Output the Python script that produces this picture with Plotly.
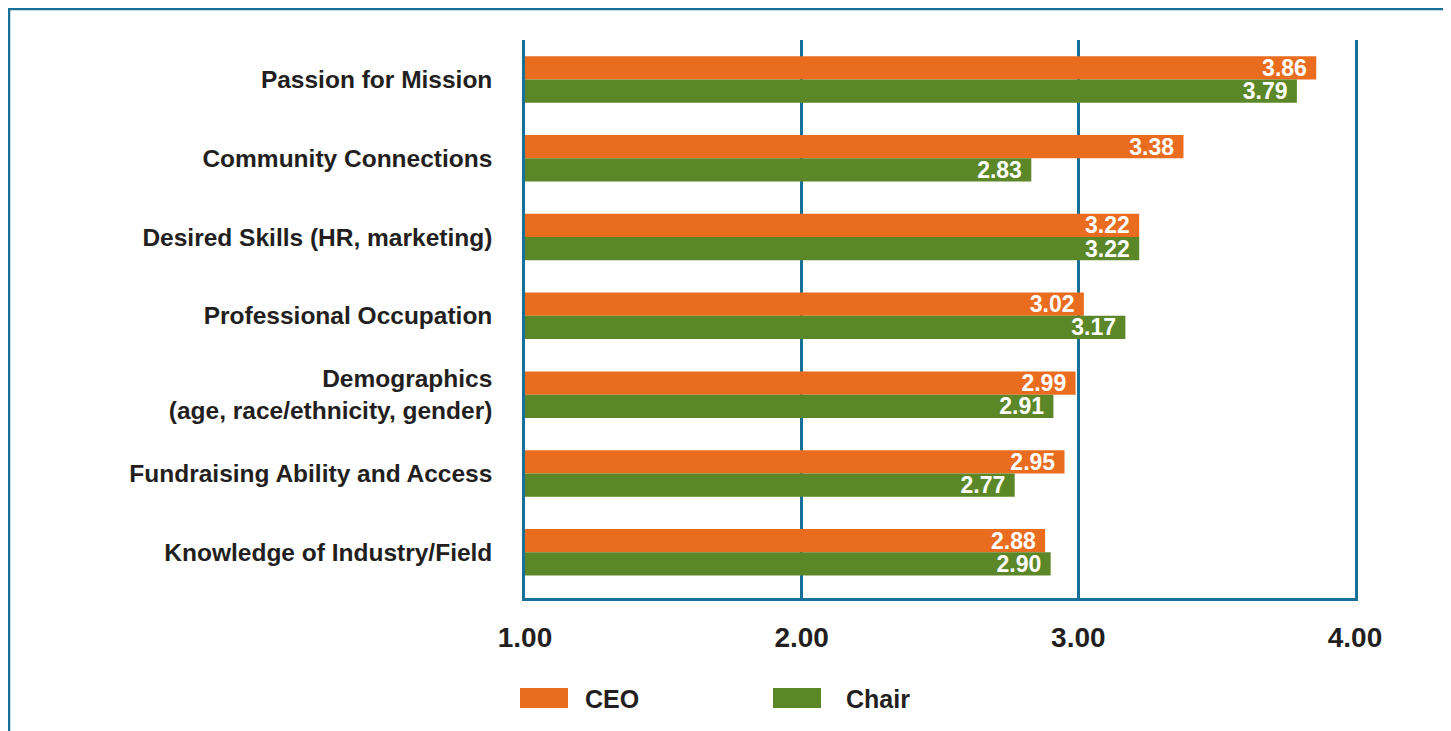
import plotly.graph_objects as go

# data (top to bottom)
categories = [
    "Passion for Mission",
    "Community Connections",
    "Desired Skills (HR, marketing)",
    "Professional Occupation",
    "Demographics<br>(age, race/ethnicity, gender)",
    "Fundraising Ability and Access",
    "Knowledge of Industry/Field",
]
ceo = [3.86, 3.38, 3.22, 3.02, 2.99, 2.95, 2.88]
chair = [3.79, 2.83, 3.22, 3.17, 2.91, 2.77, 2.90]
tick_vals = [1, 2, 3, 4]
tick_text = ["1.00", "2.00", "3.00", "4.00"]

ORANGE = "#E96C1F"
GREEN = "#5C8729"
TEAL = "#17709A"
INK = "#231F20"
FONT = "Liberation Sans"

# the page puts the figure 8px in from the corner, so work in shifted pixels
OFF = 8
W, H = 1451 - OFF, 731 - OFF
L, R, T, B = 525 - OFF, 1355 - OFF, 40 - OFF, 598 - OFF  # plot area


def px(x):
    return (x - OFF - L) / (R - L)


def py(y):
    return (B - (y - OFF)) / (B - T)


fig = go.Figure()
fig.add_trace(go.Bar(
    name="CEO", y=categories, x=ceo, orientation="h",
    marker=dict(color=ORANGE, line=dict(width=0)),
    text=[f"{v:.2f}\u00a0" for v in ceo],
    textposition="inside", insidetextanchor="end",
    textfont=dict(color="white", size=23, family=FONT, weight="bold"),
    showlegend=False,
))
fig.add_trace(go.Bar(
    name="Chair", y=categories, x=chair, orientation="h",
    marker=dict(color=GREEN, line=dict(width=0)),
    text=[f"{v:.2f}\u00a0" for v in chair],
    textposition="inside", insidetextanchor="end",
    textfont=dict(color="white", size=23, family=FONT, weight="bold"),
    showlegend=False,
))

fig.update_layout(
    width=W, height=H,
    margin=dict(l=L, r=W - R, t=T, b=H - B),
    paper_bgcolor="white", plot_bgcolor="white",
    barmode="group", bargap=0.41, bargroupgap=0,
    uniformtext=dict(minsize=23, mode="show"),
    font=dict(family=FONT, color=INK),
    xaxis=dict(
        range=[1, 4], tickvals=tick_vals, ticktext=tick_text,
        showgrid=True, gridcolor=TEAL, gridwidth=2.5,
        showline=True, linecolor=TEAL, linewidth=2.5,
        zeroline=False, ticks="",
        tickfont=dict(size=28, family=FONT, color=INK, weight="bold"),
        ticklabelstandoff=13,
    ),
    yaxis=dict(
        type="category", categoryorder="array", categoryarray=categories,
        range=[6.58, -0.5], showgrid=False, zeroline=False, ticks="",
        showline=True, mirror=True, linecolor=TEAL, linewidth=2.5,
        tickfont=dict(size=24.5, family=FONT, color=INK, weight="bold"),
        ticklabelstandoff=25,
    ),
)

# outer frame
fig.add_shape(type="rect", xref="paper", yref="paper",
              x0=px(9), x1=px(1445), y0=py(745), y1=py(9),
              line=dict(color=TEAL, width=2.5), layer="below")

# legend drawn by hand (wide colour boxes)
for color, label, bx, tx in [(ORANGE, "CEO", 520, 583), (GREEN, "Chair", 773, 844)]:
    fig.add_shape(type="rect", xref="paper", yref="paper",
                  x0=px(bx), x1=px(bx + 48), y0=py(708), y1=py(688),
                  fillcolor=color, line=dict(width=0))
    fig.add_annotation(xref="paper", yref="paper", x=px(tx), y=py(699),
                       xanchor="left", yanchor="middle", showarrow=False,
                       text=label, font=dict(size=25, family=FONT, color=INK, weight="bold"))

fig.write_html("out.html")
